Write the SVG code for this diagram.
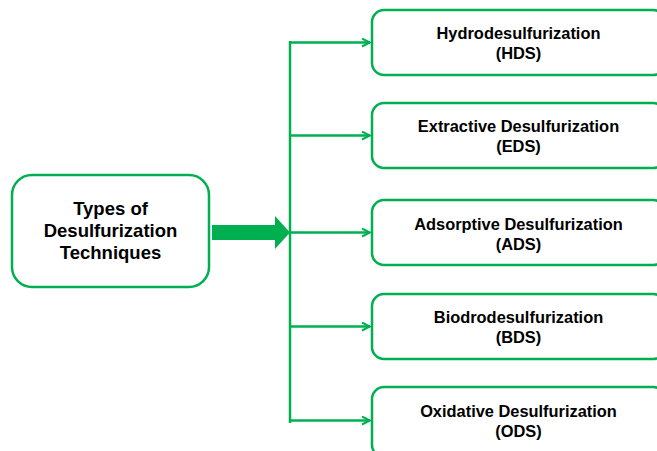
<svg xmlns="http://www.w3.org/2000/svg" width="657" height="451" viewBox="0 0 657 451">
<defs>
<style>
.box{fill:#fff;stroke:#00B050;stroke-width:2.5}
.conn{fill:none;stroke:#00B050;stroke-width:2.5}
.t{font-family:"Liberation Sans",Arial,sans-serif;font-weight:bold;fill:#000;text-anchor:middle}
.big{font-size:18.5px}
.sm{font-size:16.4px}
</style>
<marker id="ah" viewBox="0 0 10 10" refX="9" refY="5" markerWidth="10" markerHeight="10" markerUnits="userSpaceOnUse" orient="auto">
<path d="M1,1 L9,5 L1,9" fill="none" stroke="#00B050" stroke-width="2"/>
</marker>
</defs>
<rect width="657" height="451" fill="#fff"/>
<g id="connectors">
<line class="conn" x1="290" y1="41" x2="290" y2="423"/>
<line class="conn" x1="290" y1="42.5" x2="370" y2="42.5" marker-end="url(#ah)"/>
<line class="conn" x1="290" y1="135.5" x2="370" y2="135.5" marker-end="url(#ah)"/>
<line class="conn" x1="290" y1="232.5" x2="370" y2="232.5" marker-end="url(#ah)"/>
<line class="conn" x1="290" y1="326.5" x2="370" y2="326.5" marker-end="url(#ah)"/>
<line class="conn" x1="290" y1="420.5" x2="370" y2="420.5" marker-end="url(#ah)"/>
<polygon points="212,225 275,225 275,216 290,232.5 275,249 275,240 212,240" fill="#00B050"/>
</g>
<g id="types">
<rect class="box" x="12" y="175" width="197" height="112" rx="20"/>
<text class="t big" x="110.5" y="215">Types of</text>
<text class="t big" x="110.5" y="237">Desulfurization</text>
<text class="t big" x="110.5" y="259">Techniques</text>
</g>
<g id="hds">
<rect class="box" x="372" y="10" width="293" height="65" rx="12"/>
<text class="t sm" x="518.5" y="38.5">Hydrodesulfurization</text>
<text class="t sm" x="518.5" y="58.5">(HDS)</text>
</g>
<g id="eds">
<rect class="box" x="372" y="103" width="293" height="65" rx="12"/>
<text class="t sm" x="518.5" y="131.5">Extractive Desulfurization</text>
<text class="t sm" x="518.5" y="151.5">(EDS)</text>
</g>
<g id="ads">
<rect class="box" x="372" y="200" width="293" height="65" rx="12"/>
<text class="t sm" x="518.5" y="229.5">Adsorptive Desulfurization</text>
<text class="t sm" x="518.5" y="249.5">(ADS)</text>
</g>
<g id="bds">
<rect class="box" x="372" y="294" width="293" height="65" rx="12"/>
<text class="t sm" x="518.5" y="323">Biodrodesulfurization</text>
<text class="t sm" x="518.5" y="343">(BDS)</text>
</g>
<g id="ods">
<rect class="box" x="372" y="387" width="293" height="70" rx="12"/>
<text class="t sm" x="518.5" y="416.5">Oxidative Desulfurization</text>
<text class="t sm" x="518.5" y="437">(ODS)</text>
</g>
</svg>
